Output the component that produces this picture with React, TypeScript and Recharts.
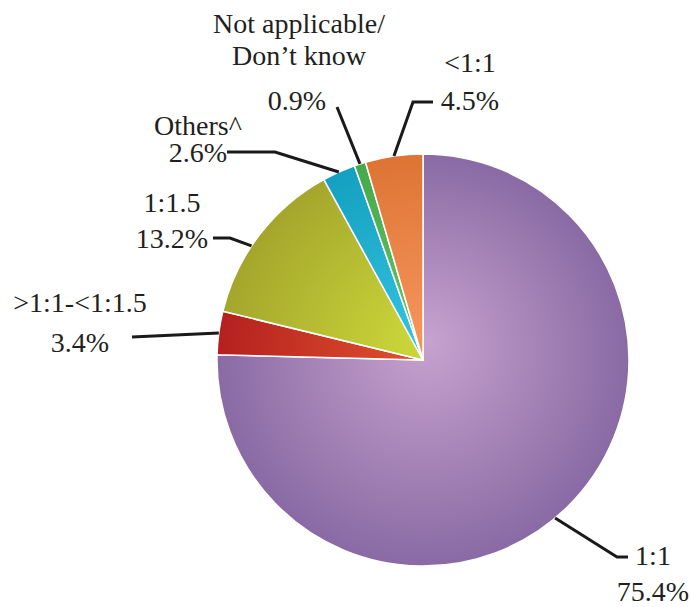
import { PieChart, Pie, Cell } from 'recharts'

const categories = ['1:1', '>1:1-<1:1.5', '1:1.5', 'Others^', 'Not applicable/ Don’t know', '<1:1']
const shares = [75.4, 3.4, 13.2, 2.6, 0.9, 4.5]

// [center color, edge color]
const COLORS: [string, string][] = [
  ['#c6a2ce', '#8a6aa4'],
  ['#e2532e', '#b5201f'],
  ['#cdd93a', '#a4a62c'],
  ['#33c3df', '#14a0c0'],
  ['#66c466', '#45a94c'],
  ['#f7955c', '#dd7434'],
]

const CX = 423
const CY = 360
const R = 206

// leader line: angle nudge from slice middle, elbow, end; text x and baselines
const LAYOUT: { da: number; elbow: [number, number] | null; end: [number, number]; tx: number; ys: number[] }[] = [
  { da: -4.4, elbow: [617, 557], end: [628, 557], tx: 653, ys: [565, 601] },
  { da: 0, elbow: null, end: [132, 337], tx: 80, ys: [312, 352] },
  { da: 3.8, elbow: [230, 238], end: [213, 238], tx: 172, ys: [212, 248] },
  { da: 0, elbow: [275, 152], end: [227, 152], tx: 198, ys: [135, 162] },
  { da: 0, elbow: null, end: [337, 107], tx: 299, ys: [33, 65, 110] },
  { da: 0, elbow: [413, 102], end: [433, 102], tx: 470, ys: [72, 110] },
]

const data = categories.map((name, i) => ({ name, value: shares[i] }))

const RAD = Math.PI / 180
const FONT = { fontFamily: '"Liberation Serif", "Times New Roman", Times, serif', fontSize: 28 }

function renderLabel(props: any) {
  const { cx, cy, midAngle, outerRadius, index, name, value } = props
  const l = LAYOUT[index]
  const a = midAngle + l.da
  const sx = cx + outerRadius * Math.cos(-a * RAD)
  const sy = cy + outerRadius * Math.sin(-a * RAD)
  const pts = [[sx, sy], ...(l.elbow ? [l.elbow] : []), l.end].map(p => p.join(',')).join(' ')
  const lines = [...String(name).split('/ ').map((s, j, arr) => (j < arr.length - 1 ? s + '/' : s)), `${Number(value).toFixed(1)}%`]
  return (
    <g key={`lbl-${index}`}>
      <polyline points={pts} fill="none" stroke="#1a1a1a" strokeWidth={3} />
      {lines.map((t, j) => (
        <text key={j} x={j === 2 && index === 4 ? 297 : l.tx} y={l.ys[j]} textAnchor="middle" fill="#231f20" style={FONT}>
          {t}
        </text>
      ))}
    </g>
  )
}

export default function App() {
  return (
    <div style={{ position: 'absolute', left: 0, top: 0, background: '#fff' }}>
      <PieChart width={691} height={607} margin={{ top: 0, right: 0, bottom: 0, left: 0 }}>
        <defs>
          {COLORS.map(([c0, c1], i) => (
            <radialGradient key={i} id={`g${i}`} gradientUnits="userSpaceOnUse" cx={CX} cy={CY} r={R} fx={CX + 5} fy={CY - 20}>
              <stop offset="0%" stopColor={c0} />
              <stop offset="100%" stopColor={c1} />
            </radialGradient>
          ))}
        </defs>
        <Pie
          data={data}
          dataKey="value"
          nameKey="name"
          cx={CX}
          cy={CY}
          outerRadius={R}
          startAngle={90}
          endAngle={-270}
          stroke="#ffffff"
          strokeWidth={1.5}
          label={renderLabel}
          labelLine={false}
          isAnimationActive={false}
        >
          {data.map((d, i) => (
            <Cell key={d.name} fill={`url(#g${i})`} />
          ))}
        </Pie>
      </PieChart>
    </div>
  )
}
